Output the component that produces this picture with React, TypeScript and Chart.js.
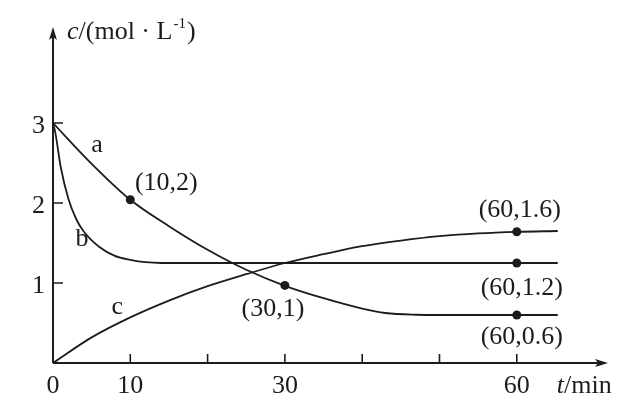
import React, { useEffect, useRef } from "react";
import { Chart, registerables } from "chart.js";

Chart.register(...registerables);

// ---- data ----
const curveAX = [0, 5, 10, 15, 20, 25, 30, 35, 40, 43, 47, 50, 55, 60, 65.3];
const curveAY = [3, 2.49, 2.04, 1.71, 1.415, 1.165, 0.965, 0.81, 0.68, 0.625, 0.603, 0.6, 0.6, 0.6, 0.6];

const curveBX = [0, 0.3, 1, 2, 3, 4, 6, 8, 10, 12, 14, 20, 30, 40, 50, 60, 65.3];
const curveBY = [3, 2.88, 2.45, 2.05, 1.8, 1.64, 1.45, 1.34, 1.29, 1.26, 1.25, 1.25, 1.25, 1.25, 1.25, 1.25, 1.25];

const curveCX = [0, 5, 10, 15, 20, 25, 30, 35, 40, 45, 50, 55, 60, 65.3];
const curveCY = [0, 0.32, 0.57, 0.78, 0.96, 1.11, 1.25, 1.36, 1.46, 1.53, 1.585, 1.62, 1.64, 1.65];

const markedX = [10, 30, 60, 60, 60];
const markedY = [2.04, 0.97, 1.64, 1.25, 0.6];
const markedLabels = ["(10,2)", "(30,1)", "(60,1.6)", "(60,1.2)", "(60,0.6)"];

const curveNames = ["a", "b", "c"];
const curveNameX = [5.7, 3.75, 8.3];
const curveNameY = [2.72, 1.55, 0.7];

const xTickValues = [10, 20, 30, 40, 50, 60];
const xLabelValues = [0, 10, 30, 60];
const xLabelTexts = ["0", "10", "30", "60"];
const yTickValues = [1, 2, 3];
const yTickLabels = ["1", "2", "3"];

const X_MAX = 71.8;
const Y_MAX = 4.2;

// ---- styles / offsets (pixels) ----
const INK = "#1c1c1c";
const SERIF = "'Liberation Serif', 'Times New Roman', 'DejaVu Serif', serif";
const FONT = "26px " + SERIF;
const ITALIC = "italic 26px " + SERIF;
const LABEL_OFFSETS: [number, number][] = [
  [36, -17],
  [-12, 24],
  [3, -22],
  [5, 25],
  [5, 22],
];

const toXY = (xs: number[], ys: number[]) => xs.map((x, i) => ({ x, y: ys[i] }));

const decorPlugin = {
  id: "decor",
  afterDraw(chart: any) {
    const ctx = chart.ctx as CanvasRenderingContext2D;
    const xs = chart.scales.x;
    const ys = chart.scales.y;
    const x0 = xs.getPixelForValue(0);
    const y0 = ys.getPixelForValue(0);
    const xEnd = xs.getPixelForValue(X_MAX);
    const yEnd = ys.getPixelForValue(Y_MAX);
    ctx.save();
    ctx.strokeStyle = INK;
    ctx.fillStyle = INK;
    ctx.lineWidth = 2;
    // axes
    ctx.beginPath();
    ctx.moveTo(x0, y0);
    ctx.lineTo(xEnd - 6, y0);
    ctx.moveTo(x0, y0);
    ctx.lineTo(x0, yEnd + 6);
    ctx.stroke();
    // arrowheads
    ctx.beginPath();
    ctx.moveTo(xEnd, y0);
    ctx.lineTo(xEnd - 13, y0 - 4);
    ctx.lineTo(xEnd - 10, y0);
    ctx.lineTo(xEnd - 13, y0 + 4);
    ctx.closePath();
    ctx.fill();
    ctx.beginPath();
    ctx.moveTo(x0, yEnd);
    ctx.lineTo(x0 - 4, yEnd + 13);
    ctx.lineTo(x0, yEnd + 10);
    ctx.lineTo(x0 + 4, yEnd + 13);
    ctx.closePath();
    ctx.fill();
    // ticks
    ctx.lineWidth = 1.6;
    ctx.beginPath();
    xTickValues.forEach((v) => {
      const px = xs.getPixelForValue(v);
      ctx.moveTo(px, y0);
      ctx.lineTo(px, y0 - 9);
    });
    yTickValues.forEach((v) => {
      const py = ys.getPixelForValue(v);
      ctx.moveTo(x0, py);
      ctx.lineTo(x0 + 10, py);
    });
    ctx.stroke();
    // tick labels
    ctx.font = FONT;
    ctx.textBaseline = "alphabetic";
    ctx.textAlign = "center";
    xLabelValues.forEach((v, i) => {
      ctx.fillText(xLabelTexts[i], xs.getPixelForValue(v), y0 + 30);
    });
    ctx.textAlign = "right";
    yTickValues.forEach((v, i) => {
      ctx.fillText(yTickLabels[i], x0 - 8, ys.getPixelForValue(v) + 10);
    });
    // x axis title: t/min
    ctx.textAlign = "left";
    let tx = xs.getPixelForValue(60) + 40;
    ctx.font = ITALIC;
    ctx.fillText("t", tx, y0 + 30);
    tx += ctx.measureText("t").width;
    ctx.font = FONT;
    ctx.fillText("/min", tx, y0 + 30);
    // y axis title: c/(mol · L^-1)
    const ty = yEnd + 12;
    let yx = x0 + 14;
    ctx.font = ITALIC;
    ctx.fillText("c", yx, ty);
    yx += ctx.measureText("c").width;
    ctx.font = FONT;
    const main = "/(mol \u00B7 L";
    ctx.fillText(main, yx, ty);
    yx += ctx.measureText(main).width + 1;
    ctx.font = "15px " + SERIF;
    ctx.fillText("-1", yx, ty - 11);
    yx += ctx.measureText("-1").width + 1;
    ctx.font = FONT;
    ctx.fillText(")", yx, ty);
    // point labels
    ctx.textAlign = "center";
    ctx.textBaseline = "middle";
    markedLabels.forEach((t, i) => {
      const px = xs.getPixelForValue(markedX[i]) + LABEL_OFFSETS[i][0];
      const py = ys.getPixelForValue(markedY[i]) + LABEL_OFFSETS[i][1];
      ctx.fillText(t, px, py);
    });
    // curve names
    curveNames.forEach((t, i) => {
      ctx.fillText(t, xs.getPixelForValue(curveNameX[i]), ys.getPixelForValue(curveNameY[i]));
    });
    ctx.restore();
  },
};

export default function App() {
  const ref = useRef<HTMLCanvasElement | null>(null);
  useEffect(() => {
    document.body.style.margin = "0";
    if (!ref.current) return;
    const lineStyle = {
      borderColor: INK,
      borderWidth: 1.8,
      pointRadius: 0,
      fill: false,
      cubicInterpolationMode: "monotone" as const,
    };
    const chart = new Chart(ref.current, {
      type: "line",
      data: {
        datasets: [
          { label: "a", data: toXY(curveAX, curveAY), ...lineStyle },
          { label: "b", data: toXY(curveBX, curveBY), ...lineStyle },
          { label: "c", data: toXY(curveCX, curveCY), ...lineStyle },
          {
            label: "points",
            data: toXY(markedX, markedY),
            showLine: false,
            pointRadius: 4.5,
            pointBackgroundColor: INK,
            pointBorderColor: INK,
            borderWidth: 0,
          },
        ],
      },
      options: {
        animation: false,
        responsive: false,
        layout: { padding: { left: 53, right: 34, top: 27, bottom: 55 } },
        plugins: { legend: { display: false }, tooltip: { enabled: false } },
        scales: {
          x: { type: "linear", min: 0, max: X_MAX, display: false },
          y: { type: "linear", min: 0, max: Y_MAX, display: false },
        },
      },
      plugins: [decorPlugin],
    });
    return () => chart.destroy();
  }, []);
  return (
    <div style={{ position: "absolute", left: 0, top: 0, width: 642, height: 418, background: "#fff" }}>
      <canvas ref={ref} width={642} height={418} />
    </div>
  );
}
